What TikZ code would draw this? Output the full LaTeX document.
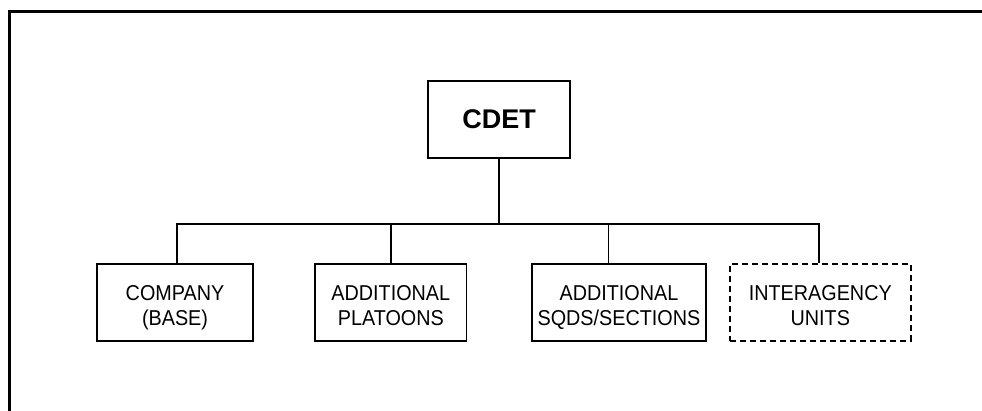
\documentclass[tikz,border=0pt]{standalone}
\usepackage{fontspec}
\setmainfont{Liberation Sans}
\newfontfamily\boxfont[FakeStretch=0.92]{Liberation Sans}
\newcommand\topstrut{\rule{0pt}{26.4pt}}
\newcommand\botstrut{\rule[-6pt]{0pt}{6pt}}
\begin{document}
\begin{tikzpicture}[x=1pt,y=-1pt,
  unitbox/.style={draw,line width=1.8pt,inner sep=0pt,align=center,
    minimum height=76.7pt,font=\boxfont\fontsize{21.5}{25}\selectfont},
  conn/.style={line width=1.6pt},
  frameline/.style={line width=3pt,line join=miter}]
\useasboundingbox (0,0) rectangle (982,410);
% frame (top and left edges)
\coordinate (frTR) at (990,11.5);
\coordinate (frC) at (9.5,11.5);
\coordinate (frBL) at (9.5,420);
\draw[frameline] (frTR) -- (frC) -- (frBL);
% nodes
\node[draw,line width=1.8pt,inner sep=0pt,minimum width=141.7pt,minimum height=77.3pt,
  font=\fontsize{27}{30}\selectfont\bfseries] (cdet) at (499.2,119.7) {CDET};
\node[unitbox,minimum width=156.6pt] (company) at (175,302.3) {\topstrut COMPANY\\(BASE)\botstrut};
\node[unitbox,minimum width=151.5pt] (plat) at (390.8,302.3) {\topstrut ADDITIONAL\\PLATOONS\botstrut};
\node[unitbox,minimum width=174.3pt] (sqds) at (618.9,302.3) {\topstrut ADDITIONAL\\SQDS/SECTIONS\botstrut};
\node[unitbox,dash pattern=on 6pt off 4pt,minimum width=180.7pt] (inter) at (820.3,302.3) {\topstrut INTERAGENCY\\UNITS\botstrut};
% connectors
\coordinate (bus) at (499.2,224);
\coordinate (sqtop) at (608.3,264);
\draw[conn] (cdet.south) -- (bus);
\draw[conn,line width=2pt] ([xshift=2pt]company.north) -- ([xshift=2pt]company.north |- bus) -- ([xshift=-1pt]inter.north |- bus) -- ([xshift=-1pt]inter.north);
\draw[conn] (plat.north) -- (plat.north |- bus);
\draw[conn] (sqtop) -- (sqtop |- bus);
\end{tikzpicture}
\end{document}
